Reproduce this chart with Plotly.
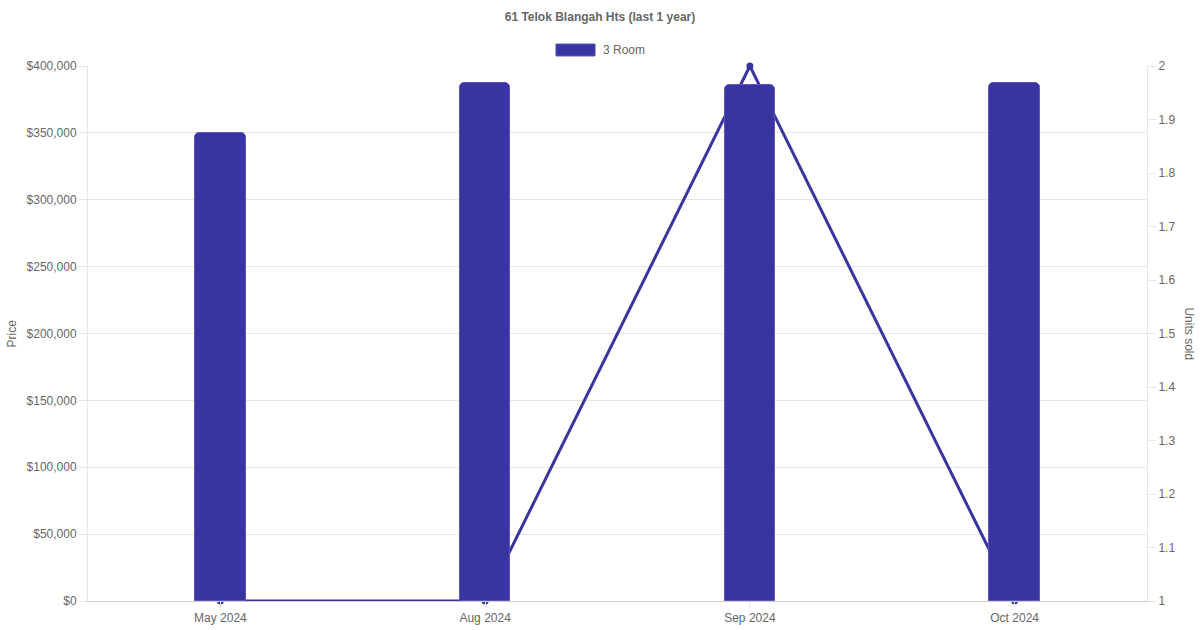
"""
61 Telok Blangah Hts - resale price (bars) and units sold (line), last 1 year.
"""

import plotly.graph_objects as go

# Data
months = ["May 2024", "Aug 2024", "Sep 2024", "Oct 2024"]
price_3room = [350000, 387000, 386000, 387000]
units_sold = [1, 1, 2, 1]

BAR_COLOR = "rgba(57,53,160,1)"
TEXT_COLOR = "#666666"
GRID_COLOR = "#e5e5e5"
FONT = "Liberation Sans, Arial, sans-serif"

fig = go.Figure()

# line is drawn on the primary (right-side) axis so the bars overlay it
fig.add_trace(go.Scatter(
    x=months, y=units_sold,
    mode="lines+markers",
    line=dict(color=BAR_COLOR, width=3),
    marker=dict(color=BAR_COLOR, size=7),
    yaxis="y",
    showlegend=False,
    cliponaxis=False,
))

fig.add_trace(go.Bar(
    x=months, y=price_3room,
    name="3 Room",
    marker=dict(color=BAR_COLOR, line=dict(color="rgba(90,86,190,1)", width=1),
                cornerradius=5),
    width=0.19,
    yaxis="y2",
    showlegend=False,
))

fig.update_layout(
    width=1200, height=630,
    paper_bgcolor="white", plot_bgcolor="white",
    font=dict(family=FONT, size=12, color=TEXT_COLOR),
    margin=dict(l=88, r=53, t=66, b=29),
    title=dict(
        text="<b>61 Telok Blangah Hts (last 1 year)</b>",
        x=0.5, xanchor="center", y=0.973, yanchor="middle",
        font=dict(size=12, color=TEXT_COLOR),
    ),
    xaxis=dict(
        type="category", range=[-0.5, 3.5], automargin=False,
        showgrid=False, showline=True, linecolor="#cccccc", linewidth=1,
        ticks="outside", ticklen=6, tickcolor=GRID_COLOR,
        tickfont=dict(size=12, color=TEXT_COLOR),
    ),
    yaxis=dict(
        side="right", range=[1, 2], dtick=0.1, automargin=False,
        showgrid=False, zeroline=False,
        showline=True, linecolor=GRID_COLOR, linewidth=1,
        ticks="outside", ticklen=8, tickcolor=GRID_COLOR,
        tickfont=dict(size=12, color=TEXT_COLOR),
    ),
    yaxis2=dict(
        overlaying="y", side="left", range=[0, 400000], dtick=50000,
        tickprefix="$", tickformat=",d", automargin=False,
        showgrid=True, gridcolor=GRID_COLOR, zeroline=False,
        showline=True, linecolor=GRID_COLOR, linewidth=1,
        ticks="outside", ticklen=8, tickcolor=GRID_COLOR,
        tickfont=dict(size=12, color=TEXT_COLOR),
    ),
    bargap=0,
)

# axis titles as annotations so "Units sold" can read top-to-bottom
fig.add_annotation(text="Price", xref="paper", yref="paper", x=-0.0727, y=0.5,
                   xanchor="center", yanchor="middle",
                   textangle=-90, showarrow=False, font=dict(size=12, color=TEXT_COLOR))
fig.add_annotation(text="Units sold", xref="paper", yref="paper", x=1.0397, y=0.5,
                   xanchor="center", yanchor="middle",
                   textangle=90, showarrow=False, font=dict(size=12, color=TEXT_COLOR))

# legend drawn by hand: wide swatch + label
fig.add_shape(type="rect", xref="paper", yref="paper",
              x0=0.4419, x1=0.4788, y0=1.0187, y1=1.0411,
              fillcolor=BAR_COLOR, line=dict(color="rgba(90,86,190,1)", width=1))
fig.add_annotation(text="3 Room", xref="paper", yref="paper", x=0.4844, y=1.03,
                   xanchor="left", yanchor="middle", showarrow=False,
                   font=dict(size=12, color=TEXT_COLOR))

fig.write_html("out.html", config={"displayModeBar": False},
               post_script="document.body.style.margin='0';")
